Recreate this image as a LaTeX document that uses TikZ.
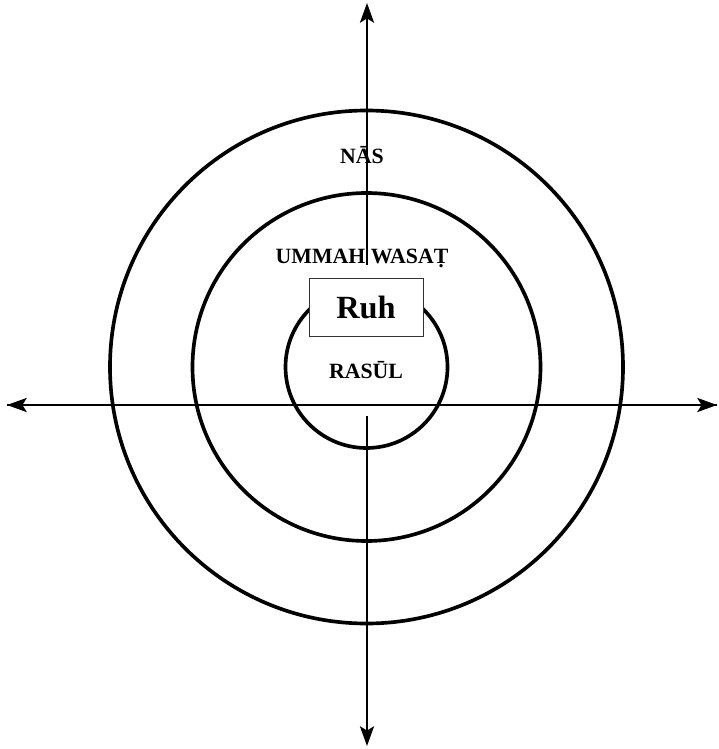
\documentclass[tikz,border=0pt]{standalone}
\usepackage{fontspec}
\setmainfont{Liberation Serif}
\usetikzlibrary{arrows.meta}

\begin{document}
\begin{tikzpicture}[
      x=0.025cm, y=-0.025cm,
      ring/.style={line width=2.6pt, draw=black},
      axis/.style={line width=1.5pt, draw=black, -{Stealth[length=14pt, width=10pt, inset=3pt]}},
      rlabel/.style={font=\fontsize{15.5}{17}\selectfont\bfseries, inner sep=0pt},
      ruhbox/.style={draw=black!80, line width=0.6pt, fill=white, minimum width=114*0.025cm,
                     minimum height=58*0.025cm, font=\fontsize{23}{25}\selectfont\bfseries},
    ]
    \useasboundingbox (0,0) rectangle (718,749);

    % -------------------------------------------------------
    %  Rings
    % -------------------------------------------------------
    \coordinate (centre) at (366.5, 367);
    \draw[ring] (centre) circle (256.5);
    \draw[ring] (centre) circle (174);
    \draw[ring] (centre) circle (81);

    % -------------------------------------------------------
    %  Axes
    % -------------------------------------------------------
    \coordinate (west) at (7, 405);
    \coordinate (east) at (717, 405);
    \coordinate (north) at (367, 3);
    \coordinate (south) at (367, 746);
    \coordinate (upperend) at (367, 265);
    \coordinate (lowerend) at (367, 416);

    \draw[axis] (west) -- (east);
    \draw[axis] (east) -- (west);
    \draw[axis] (upperend) -- (north);
    \draw[axis] (lowerend) -- (south);

    % -------------------------------------------------------
    %  Labels
    % -------------------------------------------------------
    \node[rlabel] (nas) at (362, 155) {NĀS};
    \node[rlabel] (ummah) at (362, 258) {UMMAH WASAṬ};
    \node[ruhbox] (ruh) at (366, 307) {Ruh};
    \node[rlabel] (rasul) at (366, 370) {RASŪL};

  \end{tikzpicture}
\end{document}
